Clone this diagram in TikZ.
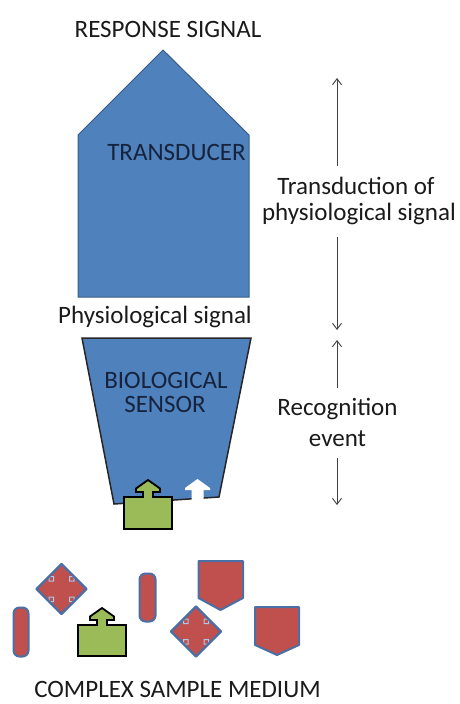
\documentclass[tikz,border=0pt]{standalone}
\usepackage{fontspec}
\setmainfont{Carlito}
\usetikzlibrary{arrows.meta}
\definecolor{boxblue}{HTML}{4F81BD}
\definecolor{boxline}{HTML}{385D8A}
\definecolor{redfill}{HTML}{C0504D}
\definecolor{redline}{HTML}{4A6FA5}
\definecolor{greenfill}{HTML}{9BBB59}
\definecolor{lightline}{HTML}{A8C8EC}
\definecolor{navytext}{HTML}{17233D}
\definecolor{txt}{HTML}{1A1A1A}
\definecolor{arr}{HTML}{404040}
\begin{document}
\begin{tikzpicture}[x=1pt,y=-1pt,
  lbl/.style={font=\fontsize{25}{30}\selectfont, inner sep=0pt, anchor=base, text=txt},
  inlbl/.style={lbl, text=navytext},
  redshape/.style={fill=redfill, draw=redline, line width=2pt, line join=round},
  pillshape/.style={redshape, rounded corners=6pt},
  sidearrow/.style={draw=arr, line width=0.9pt, -{Straight Barb[length=6pt,width=9pt]}},
  callout/.pic={
    \draw[fill=greenfill, draw=black, line width=1.8pt, line join=miter]
      (-24,#1) -- (-24,0) -- (-5,0) -- (-5,-5) -- (-12,-5) -- (-12,-8.5) -- (0,-17)
      -- (12,-8.5) -- (12,-5) -- (5,-5) -- (5,0) -- (24,0) -- (24,#1) -- cycle;
  },
  quaddiamond/.pic={
    \fill[redfill] (0,-25) -- (25,0) -- (0,25) -- (-25,0) -- cycle;
    \draw[lightline, line width=1pt]
      (0,-25) -- (12.5,-12.5) -- (8,-12.5) -- (8,-8) -- (12.5,-8) -- (12.5,-12.5)
      -- (25,0) -- (12.5,12.5) -- (12.5,8) -- (8,8) -- (8,12.5) -- (12.5,12.5)
      -- (0,25) -- (-12.5,12.5) -- (-8,12.5) -- (-8,8) -- (-12.5,8) -- (-12.5,12.5)
      -- (-25,0) -- (-12.5,-12.5) -- (-12.5,-8) -- (-8,-8) -- (-8,-12.5) -- (-12.5,-12.5) -- cycle;
    \draw[redline, line width=2.2pt, line join=round] (0,-25) -- (25,0) -- (0,25) -- (-25,0) -- cycle;
  }]
\useasboundingbox (0,0) rectangle (460,704);

% transducer
\draw[fill=boxblue, draw=boxline, line width=1pt]
  (163,50) -- (249,135) -- (249,297) -- (78,297) -- (78,135) -- cycle;
\node[inlbl] (transducer) at (176.5,160.5) {TRANSDUCER};

% biological sensor
\draw[fill=boxblue, draw=black!85, line width=1.5pt, line join=miter]
  (82,338) -- (251,338) -- (219,497) -- (114,504) -- cycle;
\fill[white] (191.5,500.5) -- (191.5,490) -- (185,490) -- (185,488) -- (197.5,479)
  -- (210,488) -- (210,490) -- (203.5,490) -- (203.5,500.5) -- cycle;
\node[inlbl] (bio) at (166,388) {BIOLOGICAL};
\node[inlbl] (sensor) at (165,412) {SENSOR};
\pic at (148,497) {callout=32};

% labels
\node[lbl] (response) at (168,37) {RESPONSE SIGNAL};
\node[lbl] (physsig) at (155,323) {Physiological signal};
\node[lbl] (medium) at (177.5,697) {COMPLEX SAMPLE MEDIUM};
\node[lbl] (trans1) at (356,194) {Transduction of};
\node[lbl] (trans2) at (359,220.5) {physiological signal};
\node[lbl] (recog1) at (337.5,415) {Recognition};
\node[lbl] (recog2) at (337.5,446) {event};

% side arrows
\coordinate (a1s) at (337,166);
\coordinate (a1e) at (337,78);
\coordinate (a2s) at (337,237);
\coordinate (a2e) at (337,330);
\coordinate (a3s) at (337,388);
\coordinate (a3e) at (337,340);
\coordinate (a4s) at (337,458);
\coordinate (a4e) at (337,505);
\draw[sidearrow] (a1s) -- (a1e);
\draw[sidearrow] (a2s) -- (a2e);
\draw[sidearrow] (a3s) -- (a3e);
\draw[sidearrow] (a4s) -- (a4e);

% sample medium
\draw[pillshape] (13.5,607.5) rectangle (28.5,656.5);
\draw[pillshape] (139.5,573.5) rectangle (155.5,621.5);
\draw[redshape] (198.5,561) -- (243,561) -- (243,598) -- (220.5,610) -- (198.5,598) -- cycle;
\draw[redshape] (255,607) -- (299,607) -- (299,645) -- (277,655) -- (255,645) -- cycle;
\pic at (61.5,589) {quaddiamond};
\pic at (196,631.5) {quaddiamond};
\pic at (102,625) {callout=31};
\end{tikzpicture}
\end{document}
